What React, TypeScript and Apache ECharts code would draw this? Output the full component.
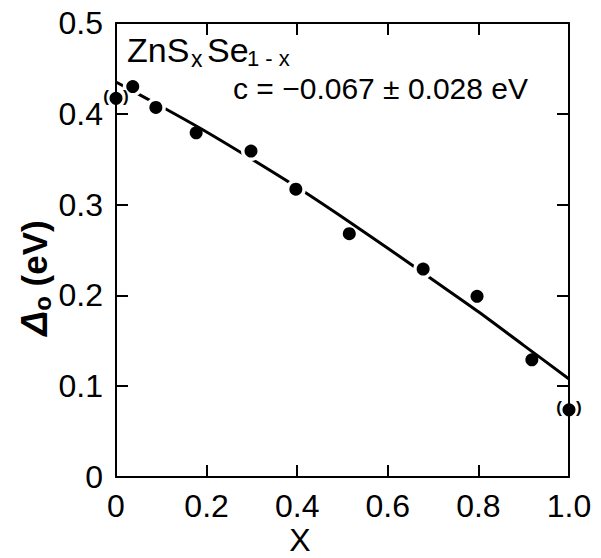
import React, { useEffect, useRef } from "react";
import * as echarts from "echarts";

// Measured points (x, Δ0 in eV)
const pointX = [0, 0.037, 0.088, 0.177, 0.298, 0.397, 0.515, 0.678, 0.797, 0.918, 1.0];
const pointY = [0.417, 0.43, 0.407, 0.379, 0.359, 0.317, 0.268, 0.229, 0.199, 0.129, 0.074];
// Points drawn in parentheses
const bracketed = [true, false, false, false, false, false, false, false, false, false, true];
// Points where the fitted curve is interrupted
const gapAt = [false, true, true, false, true, true, false, true, false, false, false];

// Fitted bowing curve
const fitX = [0, 0.1, 0.2, 0.3, 0.4, 0.5, 0.6, 0.7, 0.8, 0.9, 1.0];
const fitY = [0.435, 0.408, 0.38, 0.35, 0.319, 0.286, 0.252, 0.217, 0.182, 0.145, 0.108];

const xTicks = [0, 0.2, 0.4, 0.6, 0.8, 1.0];
const yTicks = [0, 0.1, 0.2, 0.3, 0.4, 0.5];

const FONT = "Liberation Sans";

export default function App() {
  const ref = useRef<HTMLDivElement>(null);
  useEffect(() => {
    if (!ref.current) return;
    const chart = echarts.init(ref.current, undefined, { renderer: "svg" });
    const mkLine = () => ({ show: true, onZero: false, lineStyle: { color: "#000", width: 2 } });
    const mkTick = () => ({ show: true, inside: true, length: 12, lineStyle: { color: "#000", width: 2 } });
    const fmt = (v: number) => (v === 0 ? "0" : v.toFixed(1));
    const labelStyle = { fontSize: 32, fontFamily: FONT, color: "#000" };
    const option: any = {
      animation: false,
      backgroundColor: "#fff",
      grid: { left: 116, right: 32, top: 23, bottom: 81, containLabel: false },
      xAxis: [
        {
          type: "value", min: xTicks[0], max: xTicks[xTicks.length - 1], interval: 0.2,
          position: "bottom", axisLine: mkLine(), axisTick: mkTick(), splitLine: { show: false },
          axisLabel: { ...labelStyle, formatter: fmt, margin: 13 },
        },
        {
          type: "value", min: xTicks[0], max: xTicks[xTicks.length - 1], interval: 0.2,
          position: "top", axisLine: mkLine(), axisTick: mkTick(), splitLine: { show: false },
          axisLabel: { show: false },
        },
      ],
      yAxis: [
        {
          type: "value", min: yTicks[0], max: yTicks[yTicks.length - 1], interval: 0.1,
          position: "left", axisLine: mkLine(), axisTick: mkTick(), splitLine: { show: false },
          axisLabel: { ...labelStyle, formatter: fmt, margin: 13 },
        },
        {
          type: "value", min: yTicks[0], max: yTicks[yTicks.length - 1], interval: 0.1,
          position: "right", axisLine: mkLine(), axisTick: mkTick(), splitLine: { show: false },
          axisLabel: { show: false },
        },
      ],
      series: [
        {
          type: "line",
          data: fitX.map((x, i) => [x, fitY[i]]),
          showSymbol: false,
          smooth: 0.3,
          lineStyle: { color: "#000", width: 3 },
          z: 1,
          silent: true,
        },
        {
          type: "scatter",
          data: pointX.map((x, i) => [x, pointY[i]]).filter((_, i) => gapAt[i]),
          symbolSize: 20,
          itemStyle: { color: "#fff", opacity: 1 },
          z: 2,
          clip: false,
          silent: true,
        },
        {
          type: "scatter",
          data: pointX.map((x, i) => ({
            value: [x, pointY[i]],
            label: bracketed[i]
              ? {
                  show: true,
                  position: "inside",
                  offset: [0, -2],
                  formatter: "{p|(}{g|}{p|)}",
                  rich: {
                    p: { fontSize: 17, fontFamily: FONT, color: "#000", fontWeight: "bold" },
                    g: { width: 14 },
                  },
                }
              : { show: false },
          })),
          symbolSize: 13,
          itemStyle: { color: "#000", opacity: 1 },
          z: 3,
          clip: false,
          silent: true,
        },
      ],
      graphic: [
        { type: "text", x: 127, y: 50, style: { text: "ZnS", fontSize: 34, fontFamily: FONT, fill: "#000", verticalAlign: "middle" } },
        { type: "text", x: 191, y: 59, style: { text: "x", fontSize: 23, fontFamily: FONT, fill: "#000", verticalAlign: "middle" } },
        { type: "text", x: 207, y: 50, style: { text: "Se", fontSize: 34, fontFamily: FONT, fill: "#000", verticalAlign: "middle" } },
        { type: "text", x: 247, y: 58, style: { text: "1 - x", fontSize: 22, fontFamily: FONT, fill: "#000", verticalAlign: "middle" } },
        {
          type: "text",
          left: 233,
          top: 73,
          style: { text: "c = −0.067 ± 0.028 eV", fontSize: 30, fontFamily: FONT, fill: "#000" },
        },
        {
          type: "text",
          x: 300,
          y: 540,
          style: { text: "X", fontSize: 32, fontFamily: FONT, fill: "#000", align: "center", verticalAlign: "middle" },
        },
        {
          type: "text",
          x: 34,
          y: 278,
          rotation: Math.PI / 2,
          style: {
            text: "{d|Δ}{o|o}{t| (eV)}",
            align: "center",
            verticalAlign: "middle",
            rich: {
              d: { fontSize: 37, fontFamily: FONT, fontStyle: "italic", fontWeight: "bold", color: "#000", lineHeight: 40, verticalAlign: "middle" },
              o: { fontSize: 24, fontFamily: FONT, fontWeight: "bold", color: "#000", lineHeight: 24, verticalAlign: "bottom" },
              t: { fontSize: 35, fontFamily: FONT, fontWeight: "bold", color: "#000", lineHeight: 40, verticalAlign: "middle" },
            },
          },
        },
      ],
    };
    chart.setOption(option);
    return () => chart.dispose();
  }, []);
  return (
    <div
      ref={ref}
      style={{ position: "fixed", left: 0, top: 0, width: 601, height: 558, background: "#fff" }}
    />
  );
}
